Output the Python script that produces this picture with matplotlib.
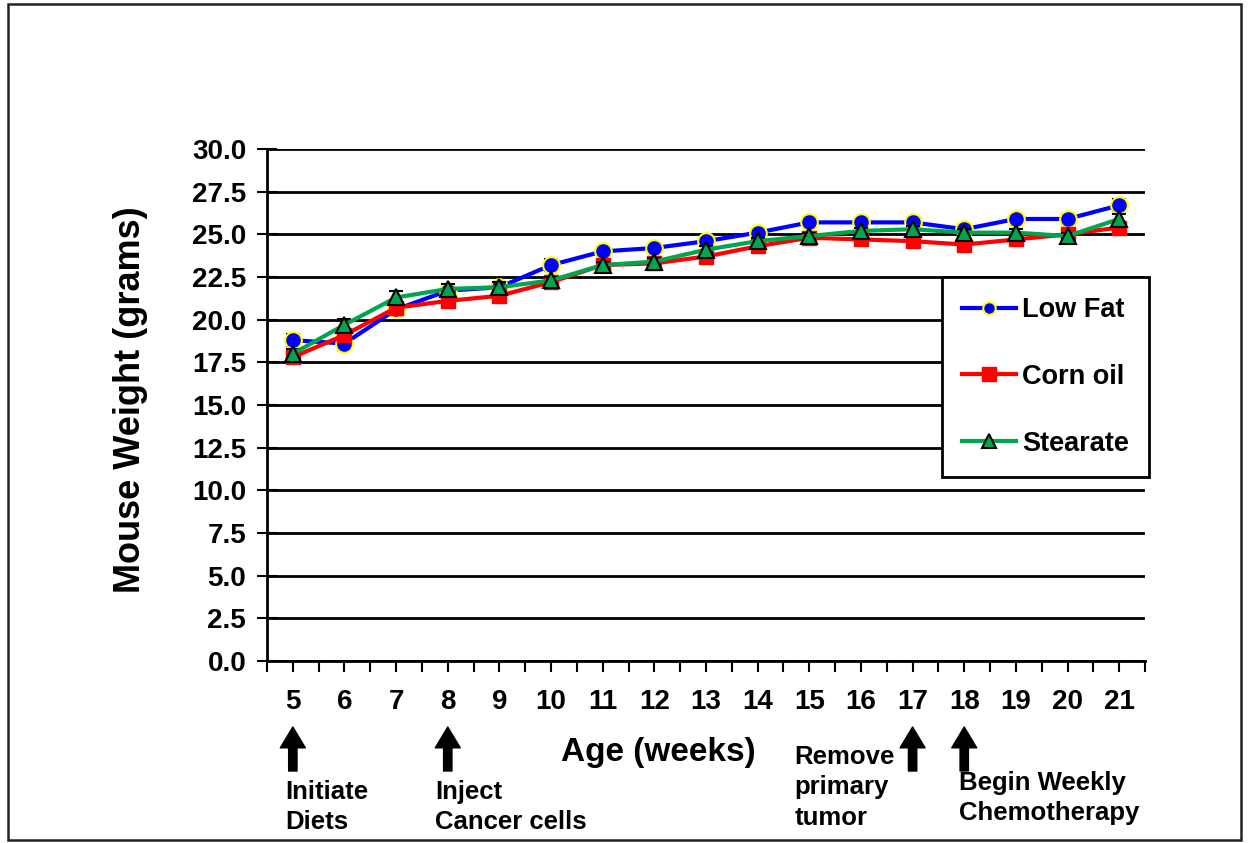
import matplotlib
matplotlib.use("Agg")
import matplotlib.pyplot as plt
import matplotlib.transforms as mtransforms
from matplotlib.patches import Rectangle
from matplotlib.lines import Line2D

plt.rcParams['font.family'] = ['Liberation Sans', 'DejaVu Sans']
plt.rcParams['font.weight'] = 'bold'

weeks = [5, 6, 7, 8, 9, 10, 11, 12, 13, 14, 15, 16, 17, 18, 19, 20, 21]
low_fat = [18.8, 18.6, 20.6, 21.7, 21.9, 23.2, 24.0, 24.2, 24.6, 25.1, 25.7, 25.7, 25.7, 25.3, 25.9, 25.9, 26.7]
corn_oil = [17.8, 19.1, 20.7, 21.1, 21.4, 22.2, 23.2, 23.3, 23.7, 24.3, 24.8, 24.7, 24.6, 24.4, 24.7, 25.0, 25.4]
stearate = [18.0, 19.7, 21.3, 21.8, 21.9, 22.3, 23.2, 23.4, 24.1, 24.6, 24.9, 25.2, 25.3, 25.1, 25.1, 24.9, 25.9]
low_fat_err = [0.35, 0.35, 0.3, 0.2, 0.2, 0.35, 0.2, 0.2, 0.2, 0.2, 0.2, 0.2, 0.25, 0.25, 0.25, 0.3, 0.35]
corn_oil_err = [0.3, 0.3, 0.3, 0.35, 0.3, 0.3, 0.2, 0.2, 0.25, 0.25, 0.2, 0.3, 0.3, 0.35, 0.3, 0.3, 0.3]
stearate_err = [0.3, 0.35, 0.4, 0.3, 0.3, 0.2, 0.2, 0.2, 0.2, 0.2, 0.2, 0.2, 0.2, 0.2, 0.2, 0.2, 0.3]

events = [5, 8, 17, 18]
event_labels = ["Initiate\nDiets", "Inject\nCancer cells", "Remove\nprimary\ntumor", "Begin Weekly\nChemotherapy"]

blue, red, green = '#0000FF', '#FF0000', '#00A550'

fig = plt.figure(figsize=(12.53, 8.43), dpi=100)
ax = fig.add_axes([267 / 1253, 1 - 661 / 843, (1145 - 267) / 1253, (661 - 149) / 843])

# outer frame around the whole picture
fig.patches.append(Rectangle((8 / 1253, 0.003), (1241 - 8) / 1253, 1 - 4 / 843 - 0.003,
                             transform=fig.transFigure, fill=False, edgecolor='#222222', linewidth=1.8))

ax.errorbar(weeks, low_fat, yerr=low_fat_err, color=blue, lw=3, marker='o', ms=12,
            mfc=blue, mec='#FFFF00', mew=1.5, ecolor='black', elinewidth=1.5, capsize=5,
            capthick=2, zorder=3)
ax.errorbar(weeks, corn_oil, yerr=corn_oil_err, color=red, lw=3, marker='s', ms=10,
            mfc=red, mec=red, mew=1, ecolor='black', elinewidth=1.5, capsize=5,
            capthick=2, zorder=4)
ax.errorbar(weeks, stearate, yerr=stearate_err, color=green, lw=3, marker='^', ms=12,
            mfc=green, mec='black', mew=1.5, ecolor='black', elinewidth=1.5, capsize=5,
            capthick=2, zorder=5)

ax.set_xlim(4.5, 21.5)
ax.set_ylim(0, 30)
ax.set_yticks([i * 2.5 for i in range(13)])
ax.set_yticklabels([f"{i * 2.5:.1f}" for i in range(13)])
ax.set_xticks(weeks)
ax.set_xticks([w + 0.5 for w in range(4, 22)], minor=True)
ax.set_xticklabels([str(w) for w in weeks])
ax.grid(axis='y', color='black', lw=2)
ax.set_axisbelow(True)
for s in ['top', 'right']:
    ax.spines[s].set_visible(False)
ax.spines['left'].set_linewidth(2)
ax.spines['bottom'].set_linewidth(2)
ax.tick_params(axis='y', direction='inout', length=14, width=1.5, labelsize=20, pad=8)
ax.tick_params(axis='x', which='major', direction='out', length=8, width=1.5, labelsize=20, pad=12)
ax.tick_params(axis='x', which='minor', direction='out', length=8, width=1.5)

handles = [
    Line2D([], [], color=blue, lw=3, marker='o', ms=9, mfc=blue, mec='#FFFF00', mew=1.5),
    Line2D([], [], color=red, lw=3, marker='s', ms=10, mfc=red, mec=red),
    Line2D([], [], color=green, lw=3, marker='^', ms=10, mfc=green, mec='black', mew=1.5),
]
leg = ax.legend(handles, ['Low Fat', 'Corn oil', 'Stearate'], loc='upper left',
                bbox_to_anchor=((942 - 267) / 878, (661 - 277) / 512),
                frameon=True, fancybox=False, edgecolor='black', framealpha=1,
                fontsize=19.5, labelspacing=1.5, handlelength=2.0, handletextpad=0.2,
                borderpad=0.75, borderaxespad=0)
leg.get_frame().set_linewidth(2)
leg.set_zorder(10)

fig.text(658 / 1253, 1 - 752 / 843, "Age (weeks)", ha='center', va='center', fontsize=24, fontweight='bold')
fig.text(130 / 1253, 1 - 400 / 843, "Mouse Weight (grams)", ha='center', va='center',
         rotation=90, fontsize=26, fontweight='bold')

mixed = mtransforms.blended_transform_factory(ax.transData, fig.transFigure)

# event arrows under the x axis
for w in events:
    ax.annotate('', xy=(w, 1 - 727 / 843), xytext=(w, 1 - 771 / 843),
                xycoords=mixed, textcoords=mixed,
                arrowprops=dict(width=6, headwidth=18, headlength=15, color='black', shrink=0),
                annotation_clip=False)

label_pos = [(4.86, 1 - 780 / 843), (7.75, 1 - 780 / 843), (14.71, 1 - 745 / 843), (17.9, 1 - 771 / 843)]
for (x, y), txt in zip(label_pos, event_labels):
    ax.text(x, y, txt, transform=mixed, ha='left', va='top', fontsize=18.5,
            fontweight='bold', linespacing=1.33)

fig.savefig('out.png', dpi=100)
